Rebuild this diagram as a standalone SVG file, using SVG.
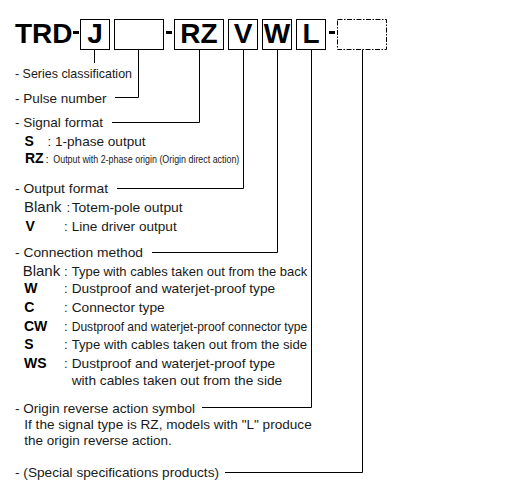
<svg xmlns="http://www.w3.org/2000/svg" width="506" height="495" viewBox="0 0 506 495">
<style>
.bx{fill:#fff;stroke:#000;stroke-width:1}
.dbx{fill:#fff;stroke:#000;stroke-width:1;stroke-dasharray:5,1.5,1.5,1.5}
.code{font-family:"Liberation Sans",Arial,sans-serif;font-weight:bold;font-size:28px;fill:#000}
.t{font-family:"Liberation Sans",Arial,sans-serif;font-size:13px;fill:#1a1a1a}
.b{font-family:"Liberation Sans",Arial,sans-serif;font-size:14px;font-weight:bold;fill:#000}
.bl{font-family:"Liberation Sans",Arial,sans-serif;font-size:15px;fill:#1a1a1a}
.c{font-family:"Liberation Sans",Arial,sans-serif;font-size:11.5px;fill:#1a1a1a}
.ln{fill:none;stroke:#000;stroke-width:1}
</style>
<rect width="506" height="495" fill="#fff"/>
<g id="model">
  <text class="code" x="15" y="43">TRD</text>
  <rect x="73" y="31" width="6" height="3" fill="#000"/>
  <rect x="166" y="31" width="6" height="3" fill="#000"/>
  <rect x="329" y="31" width="6" height="3" fill="#000"/>
</g>
<g id="box-j"><rect class="bx" x="80.5" y="19.5" width="29" height="30"/><text class="code" x="95" y="43" text-anchor="middle">J</text></g>
<g id="box-pulse"><rect class="bx" x="114.5" y="19.5" width="49" height="30"/></g>
<g id="box-rz"><rect class="bx" x="174.5" y="19.5" width="49" height="30"/><text class="code" x="199" y="43" text-anchor="middle">RZ</text></g>
<g id="box-v"><rect class="bx" x="228.5" y="19.5" width="29" height="30"/><text class="code" x="243" y="43" text-anchor="middle">V</text></g>
<g id="box-w"><rect class="bx" x="262.5" y="19.5" width="29" height="30"/><text class="code" x="277" y="43" text-anchor="middle">W</text></g>
<g id="box-l"><rect class="bx" x="296.5" y="19.5" width="29" height="30"/><text class="code" x="311" y="43" text-anchor="middle">L</text></g>
<g id="box-special"><rect class="dbx" x="337.5" y="19.5" width="49" height="30"/></g>
<g id="connectors">
  <path class="ln" d="M94.5,49.5 V63"/>
  <path class="ln" d="M138.5,49.5 V97.5 H115"/>
  <path class="ln" d="M199.5,49.5 V122.5 H112"/>
  <path class="ln" d="M243.5,49.5 V188.5 H117"/>
  <path class="ln" d="M277.5,49.5 V252.5 H152"/>
  <path class="ln" d="M311.5,49.5 V407.5 H202"/>
  <path class="ln" d="M362.5,49.5 V472.5 H225"/>
</g>
<g id="series"><text class="t" x="15" y="78" textLength="117" lengthAdjust="spacingAndGlyphs">- Series classification</text></g>
<g id="pulse"><text class="t" x="15" y="102.5" textLength="91.5" lengthAdjust="spacingAndGlyphs">- Pulse number</text></g>
<g id="signal">
  <text class="t" x="15" y="127" textLength="88" lengthAdjust="spacingAndGlyphs">- Signal format</text>
  <text class="b" x="24.5" y="146">S</text><text class="t" x="47.5" y="146">:</text><text class="t" x="55" y="146" textLength="90.5" lengthAdjust="spacingAndGlyphs">1-phase output</text>
  <text class="b" x="25" y="162.7">RZ</text><text class="c" x="45.5" y="162.7">:</text>
  <text class="c" x="53.3" y="162.7" textLength="186" lengthAdjust="spacingAndGlyphs">Output with 2-phase origin (Origin direct action)</text>
</g>
<g id="output">
  <text class="t" x="15" y="193.3" textLength="93" lengthAdjust="spacingAndGlyphs">- Output format</text>
  <text class="bl" x="24" y="211.7">Blank</text><text class="t" x="66.5" y="211.7">:</text><text class="t" x="71.7" y="211.7" textLength="111" lengthAdjust="spacingAndGlyphs">Totem-pole output</text>
  <text class="b" x="25.5" y="230.7">V</text><text class="t" x="64" y="230.7">:</text><text class="t" x="71.7" y="230.7" textLength="105" lengthAdjust="spacingAndGlyphs">Line driver output</text>
</g>
<g id="connection">
  <text class="t" x="15" y="256.7" textLength="128" lengthAdjust="spacingAndGlyphs">- Connection method</text>
  <text class="bl" x="22.7" y="276">Blank</text><text class="t" x="64" y="276">:</text><text class="t" x="71.7" y="276" textLength="235.5" lengthAdjust="spacingAndGlyphs">Type with cables taken out from the back</text>
  <text class="b" x="24.3" y="293.3">W</text><text class="t" x="64" y="293.3">:</text><text class="t" x="71.7" y="293.3" textLength="203.5" lengthAdjust="spacingAndGlyphs">Dustproof and waterjet-proof type</text>
  <text class="b" x="24.3" y="312.3">C</text><text class="t" x="64" y="312.3">:</text><text class="t" x="71.7" y="312.3" textLength="93" lengthAdjust="spacingAndGlyphs">Connector type</text>
  <text class="b" x="24" y="331">CW</text><text class="t" x="64" y="331">:</text><text class="t" x="71.7" y="331" textLength="235.5" lengthAdjust="spacingAndGlyphs">Dustproof and waterjet-proof connector type</text>
  <text class="b" x="24.3" y="349.3">S</text><text class="t" x="64" y="349.3">:</text><text class="t" x="71.7" y="349.3" textLength="235.5" lengthAdjust="spacingAndGlyphs">Type with cables taken out from the side</text>
  <text class="b" x="24" y="368.3">WS</text><text class="t" x="64" y="368.3">:</text><text class="t" x="71.7" y="368.3" textLength="203.5" lengthAdjust="spacingAndGlyphs">Dustproof and waterjet-proof type</text>
  <text class="t" x="71.7" y="384.5" textLength="210.5" lengthAdjust="spacingAndGlyphs">with cables taken out from the side</text>
</g>
<g id="origin">
  <text class="t" x="15" y="412.7" textLength="180" lengthAdjust="spacingAndGlyphs">- Origin reverse action symbol</text>
  <text class="t" x="24.3" y="428.5" textLength="287.4" lengthAdjust="spacingAndGlyphs">If the signal type is RZ, models with "L" produce</text>
  <text class="t" x="24.3" y="445" textLength="147.4" lengthAdjust="spacingAndGlyphs">the origin reverse action.</text>
</g>
<g id="special"><text class="t" x="15" y="477.3" textLength="204" lengthAdjust="spacingAndGlyphs">- (Special specifications products)</text></g>
</svg>
